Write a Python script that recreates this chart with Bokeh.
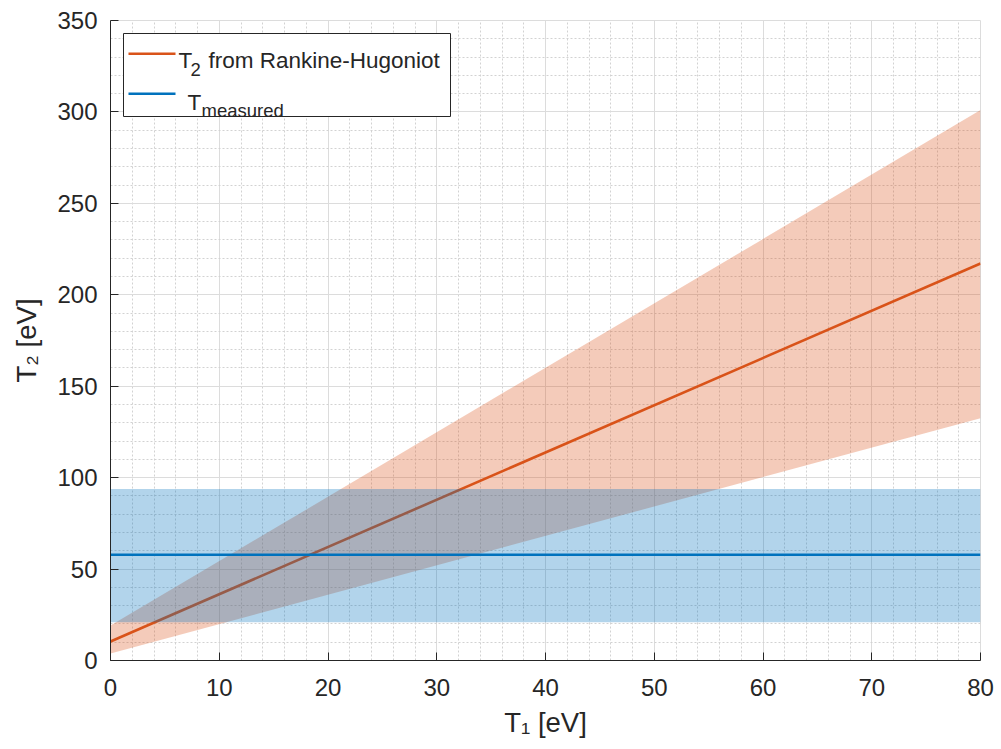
from bokeh.plotting import figure
from bokeh.models import Range1d, FixedTicker, Label
from bokeh.embed import file_html
from bokeh.resources import INLINE

# ---------------- data ----------------
t1 = [0, 80]                       # T1 [eV]
t2_rh = [10.4, 217.1]              # T2 from Rankine-Hugoniot
t2_rh_upper = [19.1, 301.0]        # upper bound of RH band
t2_rh_lower = [3.8, 132.5]         # lower bound of RH band
t_measured = 57.8                  # measured temperature
t_measured_low = 20.9
t_measured_high = 93.8

x_ticks = [0, 10, 20, 30, 40, 50, 60, 70, 80]
y_ticks = [0, 50, 100, 150, 200, 250, 300, 350]
x_minor = list(range(0, 81, 2))
y_minor = list(range(0, 351, 10))

x_label = "T\u2081 [eV]"
y_label = "T\u2082 [eV]"

X_MIN, X_MAX = 0, 80
Y_MIN, Y_MAX = 0, 350

# ---------------- layout ----------------
W, H = 1001, 749
FL, FR, FT, FB = 110, 980, 20, 660   # frame edges in pixels

ORANGE = "#D95319"
BLUE = "#0072BD"
TXT = "#262626"
FONT = "Liberation Sans"

p = figure(width=W, height=H, output_backend="svg", toolbar_location=None,
           x_range=Range1d(X_MIN, X_MAX), y_range=Range1d(Y_MIN, Y_MAX),
           min_border_left=FL, min_border_right=W - FR,
           min_border_top=FT, min_border_bottom=H - FB)
p.background_fill_color = "white"
p.border_fill_color = "white"
p.outline_line_color = "#dcdcdc"

p.xaxis.ticker = FixedTicker(ticks=x_ticks, minor_ticks=x_minor)
p.yaxis.ticker = FixedTicker(ticks=y_ticks, minor_ticks=y_minor)

for ax in (p.xaxis[0], p.yaxis[0]):
    ax.axis_line_color = TXT
    ax.axis_line_width = 1
    ax.major_tick_in = 8
    ax.major_tick_out = 0
    ax.major_tick_line_color = TXT
    ax.minor_tick_line_color = None
    ax.major_label_text_font = FONT
    ax.major_label_text_font_size = "24px"
    ax.major_label_text_color = TXT
    ax.axis_label_text_font = FONT
    ax.axis_label_text_font_size = "27.5px"
    ax.axis_label_text_font_style = "normal"
    ax.axis_label_text_color = TXT
p.xaxis.major_label_standoff = 14
p.yaxis.major_label_standoff = 9
p.xaxis.axis_label = x_label
p.yaxis.axis_label = y_label
p.xaxis.axis_label_standoff = 8
p.yaxis.axis_label_standoff = 12

for g in (p.xgrid[0], p.ygrid[0]):
    g.grid_line_color = "#dcdcdc"
    g.grid_line_width = 1
    g.minor_grid_line_color = "#d2d2d2"
    g.minor_grid_line_dash = "2 2"
    g.minor_grid_line_width = 1

# ---------------- data marks ----------------
p.varea(x=t1, y1=t2_rh_lower, y2=t2_rh_upper, fill_color=ORANGE, fill_alpha=0.3)
p.line(x=t1, y=t2_rh, line_color=ORANGE, line_width=2.6)
p.varea(x=[X_MIN, X_MAX], y1=[t_measured_low] * 2, y2=[t_measured_high] * 2,
        fill_color=BLUE, fill_alpha=0.3)
p.line(x=[X_MIN, X_MAX], y=[t_measured] * 2, line_color=BLUE, line_width=2.6)

# ---------------- helpers for pixel placement ----------------
def px2x(px):
    return X_MIN + (px - FL) / (FR - FL) * (X_MAX - X_MIN)

def py2y(py):
    return Y_MIN + (FB - py) / (FB - FT) * (Y_MAX - Y_MIN)

def lab(text, px, py, size):
    p.add_layout(Label(x=X_MIN, y=Y_MIN, x_offset=px - FL, y_offset=FB - py,
                       text=text, text_font=FONT, text_font_size=f"{size}px",
                       text_color=TXT, text_align="left",
                       text_baseline="alphabetic"))

# ---------------- legend (manual, to allow subscripts) ----------------
p.quad(left=px2x(123), right=px2x(450), bottom=py2y(116), top=py2y(33),
       fill_color="white", line_color=TXT, line_width=1)
p.line(x=[px2x(128), px2x(175)], y=[py2y(53.3)] * 2, line_color=ORANGE, line_width=2.6)
p.line(x=[px2x(128), px2x(175)], y=[py2y(93.3)] * 2, line_color=BLUE, line_width=2.6)
lab("T", 178, 60, 22.5)
lab("2", 190, 68.5, 18.5)
lab("from Rankine-Hugoniot", 208, 60, 22.5)
lab("T", 187, 101.5, 22.5)
lab("measured", 201, 109.5, 18.5)

open("out.html", "w").write(file_html(p, INLINE))
